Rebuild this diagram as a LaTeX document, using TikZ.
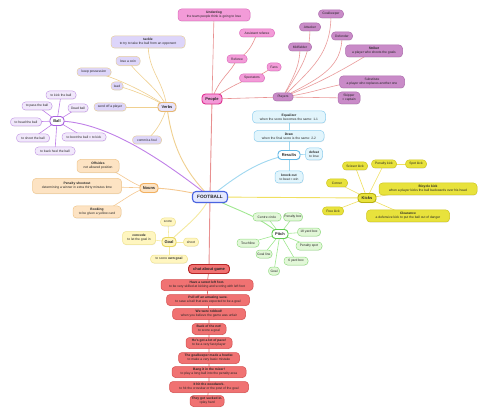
\documentclass[tikz,border=0pt]{standalone}
\usepackage{fontspec}
\setmainfont{Liberation Sans}
\usetikzlibrary{shadows}
\pgfdeclarelayer{bg}
\pgfdeclarelayer{paper}
\pgfsetlayers{paper,bg,main}
\definecolor{fbfill}{HTML}{E4E8FF}
\definecolor{fbline}{HTML}{4A64E0}
\definecolor{ppfill}{HTML}{F39BD8}
\definecolor{ppline}{HTML}{E070C0}
\definecolor{pphub}{HTML}{E0308F}
\definecolor{plfill}{HTML}{C98BC8}
\definecolor{plline}{HTML}{B070B0}
\definecolor{vbfill}{HTML}{DDD5FA}
\definecolor{vbline}{HTML}{E8D0A0}
\definecolor{vbhub}{HTML}{E8B870}
\definecolor{blfill}{HTML}{F1E8FB}
\definecolor{blline}{HTML}{C8A0E8}
\definecolor{blhub}{HTML}{A860E0}
\definecolor{nnfill}{HTML}{FDE3C3}
\definecolor{nnline}{HTML}{F0C890}
\definecolor{nnhub}{HTML}{F2B060}
\definecolor{glfill}{HTML}{FFF6C0}
\definecolor{glline}{HTML}{F0E490}
\definecolor{glhub}{HTML}{E8D860}
\definecolor{chfill}{HTML}{F07272}
\definecolor{chline}{HTML}{D85050}
\definecolor{chhub}{HTML}{B82828}
\definecolor{rsfill}{HTML}{E2F5FC}
\definecolor{rsline}{HTML}{90D0F0}
\definecolor{rshub}{HTML}{60B8E8}
\definecolor{kkfill}{HTML}{E8E23C}
\definecolor{kkline}{HTML}{D0C820}
\definecolor{kkhub}{HTML}{B8B010}
\definecolor{ptfill}{HTML}{E2F7D8}
\definecolor{ptline}{HTML}{98E088}
\definecolor{pthub}{HTML}{60CC50}
\definecolor{lnpeople}{HTML}{E89090}
\definecolor{lnverbs}{HTML}{F0D090}
\definecolor{lnball}{HTML}{C080E8}
\definecolor{lnnouns}{HTML}{F5C890}
\definecolor{lngoal}{HTML}{F5EAA0}
\definecolor{lnres}{HTML}{A0D8F0}
\definecolor{lnkick}{HTML}{F0E060}
\definecolor{lnpitch}{HTML}{A0E890}
\definecolor{lnchat}{HTML}{E06060}
\newcommand\fsm{\fontsize{3.3}{3.8}\selectfont}
\newcommand\fhub{\fontsize{4.0}{4.6}\selectfont\bfseries}
\begin{document}
\begin{tikzpicture}[x=1pt,y=-1pt,
  box/.style={rounded corners=3.5pt, line width=0.5pt, inner sep=0.6pt, align=center,
    font=\fsm, text=black!85, drop shadow={shadow xshift=0.4pt,shadow yshift=-0.6pt,opacity=0.18}},
  hub/.style={box, line width=0.9pt, font=\fhub},
  bxPeople/.style={box, fill=ppfill, draw=ppline},
  bxPlayer/.style={box, fill=plfill, draw=plline},
  bxVerb/.style={box, fill=vbfill, draw=vbline},
  bxBall/.style={box, fill=blfill, draw=blline},
  bxNoun/.style={box, fill=nnfill, draw=nnline},
  bxGoal/.style={box, fill=glfill, draw=glline},
  bxChat/.style={box, fill=chfill, draw=chline},
  bxRes/.style={box, fill=rsfill, draw=rsline},
  bxKick/.style={box, fill=kkfill, draw=kkline},
  bxPitch/.style={box, fill=ptfill, draw=ptline},
  sz/.style 2 args={minimum width=#1pt, minimum height=#2pt},
  main/.style={line width=0.9pt},
  sub/.style={line width=0.6pt}
]
\useasboundingbox (0,0) rectangle (485,417);
\begin{pgfonlayer}{paper}
\fill[white] (0,0) rectangle (485,417);
\end{pgfonlayer}

% centre
\node[hub, fill=fbfill, draw=fbline, line width=1.1pt, font=\fontsize{4.7}{5}\selectfont\bfseries, sz={35}{11}] (fb) at (210,197) {FOOTBALL};

% People
\node[hub, fill=ppfill, draw=pphub, sz={20}{10}] (people) at (212,99) {People};
\node[bxPeople, sz={72}{12}] (underdog) at (214,15) {\textbf{Underdog}\\the team people think is going to lose};
\node[bxPeople, sz={35}{8}] (assist) at (257,33) {Assistant referee};
\node[bxPeople, sz={20}{8}] (referee) at (237,59) {Referee};
\node[bxPeople, sz={14}{8}] (fans) at (274,67) {Fans};
\node[bxPeople, sz={25}{8}] (spect) at (252,78) {Spectators};
\node[bxPlayer, sz={20}{8}] (players) at (283,97) {Players};
\node[bxPlayer, sz={25}{8}] (gk) at (331,14) {Goalkeeper};
\node[bxPlayer, sz={21}{8}] (att) at (310,27) {Attacker};
\node[bxPlayer, sz={21}{8}] (def) at (342,36) {Defender};
\node[bxPlayer, sz={23}{8}] (mid) at (300,47) {Midfielder};
\node[bxPlayer, sz={57}{12}] (striker) at (374,51) {\textbf{Striker}\\a player who shoots the goals};
\node[bxPlayer, sz={65}{12}] (subst) at (372,82) {Substitute\\a player who replaces another one};
\node[bxPlayer, sz={22}{12}] (skipper) at (349,98) {Skipper\\= captain};

% Verbs
\node[hub, fill=vbfill!70, draw=vbhub, sz={18}{9}] (verbs) at (167,107) {Verbs};
\node[bxVerb, sz={74}{12}] (tackle) at (148,42) {\textbf{tackle}\\to try to take the ball from an opponent};
\node[bxVerb, sz={24}{9}] (coin) at (128,61) {lose a coin};
\node[bxVerb, sz={34}{8}] (keep) at (94,72) {keep possession};
\node[bxVerb, sz={12}{8}] (lead) at (117,86) {lead};
\node[bxVerb, sz={32}{8}] (sendoff) at (110,107) {send off a player};
\node[bxVerb, sz={29}{8}] (foul) at (147,140) {commit a foul};

% Ball
\node[hub, fill=white, draw=blhub, sz={14}{9}] (ball) at (57,121) {Ball};
\node[bxBall, sz={30}{8}] (kick) at (61,95) {to kick the ball};
\node[bxBall, sz={30}{8}] (pass) at (37,106) {to pass the ball};
\node[bxBall, sz={20}{8}] (dead) at (78,108) {Dead ball};
\node[bxBall, sz={31}{8}] (head) at (26,122) {to head the ball};
\node[bxBall, sz={33}{8}] (shootb) at (33,138) {to shoot the ball};
\node[bxBall, sz={44}{8}] (boot) at (84,137) {to boot the ball = to kick};
\node[bxBall, sz={40}{8}] (heel) at (55,151) {to back heel the ball};

% Nouns
\node[hub, fill=nnfill, draw=nnhub, sz={18}{9}] (nouns) at (149,188) {Nouns};
\node[bxNoun, sz={42}{13}] (offside) at (98,166) {\textbf{Offsides}\\not allowed position};
\node[bxNoun, sz={89}{15}] (shootout) at (77,186) {\textbf{Penalty shootout}\\determining a winner in extra thirty minutes time};
\node[bxNoun, sz={48}{12}] (booking) at (97,212) {\textbf{Booking}\\to be given a yellow card};

% Goal
\node[hub, fill=glfill, draw=glhub, sz={14}{9}] (goal) at (169,242) {Goal};
\node[bxGoal, sz={15}{8}] (score) at (168,222) {score};
\node[bxGoal, sz={33}{13}] (concede) at (139,238) {\textbf{concede}\\to let the goal in};
\node[bxGoal, sz={15}{8}] (shootg) at (191,242) {shoot};
\node[bxGoal, sz={37}{8}] (owngoal) at (169,259) {to score \textbf{own goal}};

% Chat
\node[hub, fill=chfill, draw=chhub, sz={41}{9}] (chat) at (209,269) {chat about game};
\node[bxChat, sz={92}{11}] (c1) at (207,285) {\textbf{Have a sweet left foot.}\\to be very skilled at kicking and scoring with left foot};
\node[bxChat, sz={83}{11}] (c2) at (208,300) {\textbf{Pull off an amazing save.}\\to save a ball that was expected to be a goal};
\node[bxChat, sz={73}{11}] (c3) at (209,314) {\textbf{We were robbed!}\\when you believe the game was unfair};
\node[bxChat, sz={34}{11}] (c4) at (209,329) {\textbf{Back of the net!}\\to score a goal};
\node[bxChat, sz={46}{11}] (c5) at (209,343) {\textbf{He's got a lot of pace!}\\to be a very fast player};
\node[bxChat, sz={61}{11}] (c6) at (209,358) {\textbf{The goalkeeper made a howler.}\\to make a very basic mistake};
\node[bxChat, sz={74}{11}] (c7) at (209,372) {\textbf{Bang it in the mixer!}\\to play a long ball into the penalty area};
\node[bxChat, sz={79}{11}] (c8) at (209,387) {\textbf{It hit the woodwork.}\\to hit the crossbar or the post of the goal};
\node[bxChat, sz={34}{11}] (c9) at (207,401) {\textbf{They got sucked in.}\\=play hard};

% Results
\node[hub, fill=white, draw=rshub, sz={22}{9}] (results) at (289,155) {Results};
\node[bxRes, sz={73}{12}] (equal) at (289,117) {\textbf{Equalizer}\\when the score becomes the same: 1-1};
\node[bxRes, sz={70}{11}] (draw) at (289,136) {\textbf{Draw}\\when the final score is the same: 2-2};
\node[bxRes, sz={17}{12}] (defeat) at (314,154) {\textbf{defeat}\\to lose};
\node[bxRes, sz={28}{12}] (knock) at (289,177) {\textbf{knock out}\\to beat = win};

% Kicks
\node[hub, fill=kkfill, draw=kkhub, sz={18}{9}] (kicks) at (367,198) {Kicks};
\node[bxKick, sz={25}{8}] (scissor) at (355,166) {Scissor kick};
\node[bxKick, sz={25}{8}] (penkick) at (384,164) {Penalty kick};
\node[bxKick, sz={21}{8}] (spot) at (416,164) {Spot kick};
\node[bxKick, sz={21}{8}] (corner) at (337,183) {Corner};
\node[bxKick, sz={98}{12}] (bicycle) at (428,189) {\textbf{Bicycle kick}\\when a player kicks the ball backwards over his head};
\node[bxKick, sz={21}{8}] (free) at (333,211) {Free kick};
\node[bxKick, sz={83}{12}] (clear) at (408,216) {\textbf{Clearance}\\a defensive kick to put the ball out of danger};

% Pitch
\node[hub, fill=white, draw=pthub, sz={16}{9}] (pitch) at (280,234) {Pitch};
\node[bxPitch, sz={28}{8}] (centre) at (267,217) {Centre circle};
\node[bxPitch, sz={19}{8}] (penbox) at (293,217) {Penalty box};
\node[bxPitch, sz={23}{8}] (yard18) at (309,232) {18 yard box};
\node[bxPitch, sz={26}{8}] (penspot) at (309,246) {Penalty spot};
\node[bxPitch, sz={24}{8}] (yard6) at (296,261) {6 yard box};
\node[bxPitch, sz={11}{8}] (goalp) at (274,271) {Goal};
\node[bxPitch, sz={16}{8}] (goalline) at (264,254) {Goal line};
\node[bxPitch, sz={22}{8}] (touch) at (248,243) {Touchline};

\begin{pgfonlayer}{bg}
% people branch
\draw[main, lnpeople] (fb.center) -- (people.center);
\draw[sub, lnpeople] (people.center) -- (underdog.center);
\draw[sub, lnpeople] (people.center) .. controls +(8,-22) and +(-6,14) .. (referee.center);
\draw[sub, lnpeople] (referee.center) .. controls +(10,-4) and +(-4,12) .. (assist.center);
\draw[sub, lnpeople] (people.center) .. controls +(15,-10) and +(-15,5) .. (spect.center);
\draw[sub, lnpeople] (spect.center) .. controls +(10,-3) and +(-8,4) .. (fans.center);
\draw[sub, lnpeople] (people.center) -- (players.center);
\draw[sub, lnpeople!90] (players.center) .. controls +(30,-30) and +(0,40) .. (gk.center);
\draw[sub, lnpeople!90] (players.center) .. controls +(18,-30) and +(0,30) .. (att.center);
\draw[sub, lnpeople!90] (players.center) .. controls +(10,-20) and +(0,20) .. (mid.center);
\draw[sub, lnpeople!90] (players.center) .. controls +(40,-20) and +(0,30) .. (def.center);
\draw[sub, lnpeople!90] (players.center) .. controls +(40,-15) and +(-25,15) .. (striker.center);
\draw[sub, lnpeople!90] (players.center) .. controls +(40,-5) and +(-40,0) .. (subst.center);
\draw[sub, lnpeople!90] (players.center) -- (skipper.center);
% verbs
\draw[main, lnverbs] (fb.center) .. controls +(-25,-25) and +(5,40) .. (verbs.center);
\draw[sub, lnverbs] (verbs.center) .. controls +(-5,-30) and +(0,30) .. (tackle.center);
\draw[sub, lnverbs] (verbs.center) .. controls +(-10,-20) and +(10,15) .. (coin.center);
\draw[sub, lnverbs] (verbs.center) .. controls +(-20,-15) and +(20,5) .. (keep.center);
\draw[sub, lnverbs] (verbs.center) .. controls +(-15,-10) and +(10,2) .. (lead.center);
\draw[sub, lnverbs] (verbs.center) -- (sendoff.center);
\draw[sub, lnverbs] (verbs.center) .. controls +(-5,15) and +(10,-10) .. (foul.center);
% ball
\draw[main, lnball] (fb.center) .. controls +(-45,-35) and +(50,0) .. (ball.center);
\foreach \n in {kick,pass,dead,head,shootb,boot,heel} \draw[sub, lnball] (ball.center) -- (\n.center);
% nouns
\draw[main, lnnouns] (fb.center) .. controls +(-20,-5) and +(20,0) .. (nouns.center);
\draw[sub, lnnouns] (nouns.center) .. controls +(-15,0) and +(15,0) .. (offside.center);
\draw[sub, lnnouns] (nouns.center) -- (shootout.center);
\draw[sub, lnnouns] (nouns.center) .. controls +(-15,0) and +(15,0) .. (booking.center);
% goal
\draw[main, lngoal] (fb.center) .. controls +(-10,20) and +(15,-15) .. (goal.center);
\foreach \n in {score,concede,shootg,owngoal} \draw[sub, lngoal] (goal.center) -- (\n.center);
% chat
\draw[main, lnpeople] (fb.center) -- (chat.center);
\draw[sub, lnchat] (chat.center) -- (c1.center) -- (c2.center) -- (c3.center) -- (c4.center) -- (c5.center) -- (c6.center) -- (c7.center) -- (c8.center) -- (c9.center);
% results
\draw[main, lnres] (fb.center) .. controls +(25,-20) and +(-30,5) .. (results.center);
\foreach \n in {equal,draw,defeat,knock} \draw[sub, lnres] (results.center) -- (\n.center);
% kicks
\draw[main, lnkick] (fb.center) -- (kicks.center);
\foreach \n in {scissor,penkick,corner,bicycle,free,clear} \draw[sub, lnkick] (kicks.center) -- (\n.center);
\draw[sub, lnkick] (penkick.center) -- (spot.center);
% pitch
\draw[main, lnpitch] (fb.center) .. controls +(30,15) and +(-25,-20) .. (pitch.center);
\foreach \n in {centre,penbox,yard18,penspot,yard6,goalp,goalline,touch} \draw[sub, lnpitch] (pitch.center) -- (\n.center);
\end{pgfonlayer}
\end{tikzpicture}
\end{document}
